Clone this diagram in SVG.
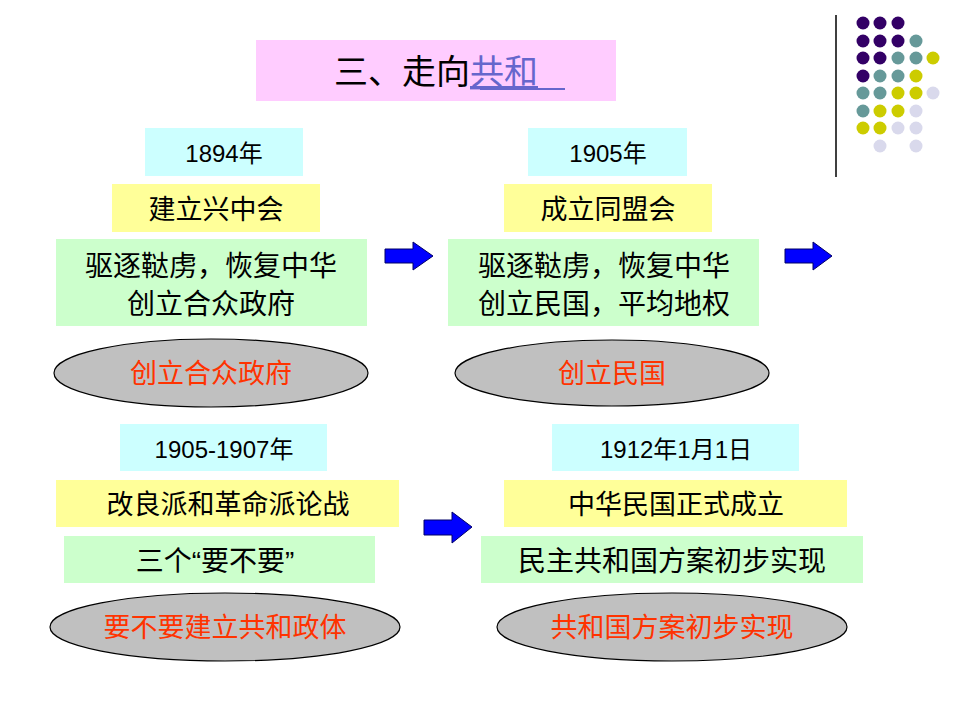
<svg xmlns="http://www.w3.org/2000/svg" width="960" height="720" viewBox="0 0 960 720">
<style>
text{font-family:"Liberation Sans","Noto Sans CJK SC",sans-serif;text-anchor:middle;fill:#000}
.c{fill:#ccffff}.y{fill:#ffff99}.g{fill:#ccffcc}.p{fill:#ffccff}
.e{fill:#c0c0c0;stroke:#000;stroke-width:1.2}
.r{fill:#ff3300;font-family:"Noto Sans CJK SC",serif}
.a{fill:#0000ff;stroke:#000066;stroke-width:1}
.P{fill:#330066}.T{fill:#669999}.Y{fill:#cccc00}.L{fill:#d9d9ec}
</style>
<rect width="960" height="720" fill="#fff"/>
<g id="deco">
<line x1="836" y1="15" x2="836" y2="177" stroke="#000" stroke-width="1.5"/>
<circle class="P" cx="863" cy="23" r="6.5"/><circle class="P" cx="880" cy="23" r="6.5"/><circle class="P" cx="898" cy="23" r="6.5"/>
<circle class="P" cx="863" cy="41" r="6.5"/><circle class="P" cx="880" cy="41" r="6.5"/><circle class="P" cx="898" cy="41" r="6.5"/><circle class="T" cx="916" cy="41" r="6.5"/>
<circle class="P" cx="863" cy="58" r="6.5"/><circle class="P" cx="880" cy="58" r="6.5"/><circle class="T" cx="898" cy="58" r="6.5"/><circle class="T" cx="916" cy="58" r="6.5"/><circle class="Y" cx="933" cy="58" r="6.5"/>
<circle class="P" cx="863" cy="76" r="6.5"/><circle class="T" cx="880" cy="76" r="6.5"/><circle class="T" cx="898" cy="76" r="6.5"/><circle class="Y" cx="916" cy="76" r="6.5"/>
<circle class="T" cx="863" cy="93" r="6.5"/><circle class="T" cx="880" cy="93" r="6.5"/><circle class="Y" cx="898" cy="93" r="6.5"/><circle class="Y" cx="916" cy="93" r="6.5"/><circle class="L" cx="933" cy="93" r="6.5"/>
<circle class="T" cx="863" cy="111" r="6.5"/><circle class="Y" cx="880" cy="111" r="6.5"/><circle class="Y" cx="898" cy="111" r="6.5"/><circle class="L" cx="916" cy="111" r="6.5"/>
<circle class="Y" cx="863" cy="128" r="6.5"/><circle class="Y" cx="880" cy="128" r="6.5"/><circle class="L" cx="898" cy="128" r="6.5"/><circle class="L" cx="916" cy="128" r="6.5"/>
<circle class="L" cx="880" cy="146" r="6.5"/><circle class="L" cx="916" cy="146" r="6.5"/>
</g>
<g id="title">
<rect class="p" x="256" y="40" width="360" height="61"/>
<text x="436" y="84" font-size="34">三、走向<tspan fill="#6666cc" text-decoration="underline">共和</tspan></text>
<line x1="480" y1="89" x2="565" y2="89" stroke="#6666cc" stroke-width="2"/>
</g>
<g id="n1894">
<rect class="c" x="145" y="128" width="158" height="48"/><text x="224" y="162" font-size="24">1894年</text>
<rect class="y" x="112" y="184" width="208" height="48"/><text x="216" y="219" font-size="27">建立兴中会</text>
<rect class="g" x="56" y="239" width="311" height="87"/>
<text x="211" y="276" font-size="28">驱逐鞑虏，恢复中华</text><text x="211" y="314" font-size="28">创立合众政府</text>
<ellipse class="e" cx="211" cy="373" rx="157" ry="34"/><text class="r" x="211" y="383" font-size="27">创立合众政府</text>
</g>
<g id="n1905">
<rect class="c" x="528" y="128" width="159" height="48"/><text x="608" y="162" font-size="24">1905年</text>
<rect class="y" x="504" y="184" width="208" height="48"/><text x="608" y="219" font-size="27">成立同盟会</text>
<rect class="g" x="448" y="239" width="311" height="87"/>
<text x="604" y="276" font-size="28">驱逐鞑虏，恢复中华</text><text x="604" y="314" font-size="28">创立民国，平均地权</text>
<ellipse class="e" cx="612" cy="373" rx="157" ry="33"/><text class="r" x="612" y="383" font-size="27">创立民国</text>
</g>
<g id="n1907">
<rect class="c" x="120" y="424" width="207" height="47"/><text x="224" y="458" font-size="24">1905-1907年</text>
<rect class="y" x="56" y="480" width="343" height="47"/><text x="228" y="514" font-size="27">改良派和革命派论战</text>
<rect class="g" x="64" y="536" width="311" height="47"/><text x="215" y="571" font-size="28">三个“要不要”</text>
<ellipse class="e" cx="225" cy="627" rx="175" ry="34"/><text class="r" x="225" y="637" font-size="27">要不要建立共和政体</text>
</g>
<g id="n1912">
<rect class="c" x="552" y="424" width="247" height="47"/><text x="676" y="458" font-size="24">1912年1月1日</text>
<rect class="y" x="504" y="480" width="343" height="47"/><text x="676" y="514" font-size="27">中华民国正式成立</text>
<rect class="g" x="481" y="536" width="382" height="47"/><text x="672" y="571" font-size="28">民主共和国方案初步实现</text>
<ellipse class="e" cx="672" cy="627" rx="175" ry="34"/><text class="r" x="672" y="637" font-size="27">共和国方案初步实现</text>
</g>
<g id="connectors">
<path class="a" d="M385 249H413V242L433 256L413 270V263H385Z"/>
<path class="a" d="M785 249H813V242L832 256L813 270V263H785Z"/>
<path class="a" d="M424 520H452V512L472 527L452 543V535H424Z"/>
</g>
</svg>
